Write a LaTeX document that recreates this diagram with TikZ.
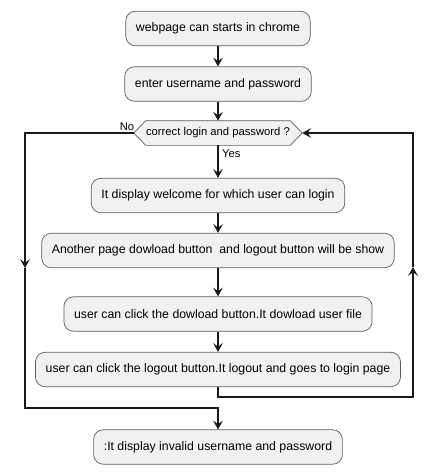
\documentclass[tikz,border=0pt]{standalone}
\usepackage{fontspec}
\setmainfont{Liberation Sans}
\usetikzlibrary{arrows.meta, backgrounds}
\definecolor{boxfill}{HTML}{F1F1F1}
\definecolor{boxline}{HTML}{181818}

\begin{document}
\begin{tikzpicture}[x=0.02cm, y=-0.02cm, font=\fontsize{7}{8.4}\selectfont,
   >={Stealth[length=5pt, width=5.5pt, inset=2pt]},
   act/.style={draw=boxline!70, fill=boxfill, rounded corners=5.5pt, minimum height=0.69cm, inner xsep=5.8pt, line width=0.4pt},
   dec/.style={minimum height=0.48cm, minimum width=2.86cm, inner sep=0pt, font=\fontsize{6.4}{7.7}\selectfont},
   hexa/.style={draw=boxline!70, fill=boxfill, line width=0.4pt},
   tag/.style={font=\fontsize{6.4}{7.7}\selectfont, inner sep=1pt},
   flow/.style={->, draw=boxline, line width=0.6pt}]
  \useasboundingbox (0,0) rectangle (437,474);
  % main column
  \node[act] (start) at (218,28.5) {webpage can starts in chrome};
  \node[act] (enter) at (218,84) {enter username and password};
  \node[dec] (check) at (218,133) {correct login and password ?};
  \node[act] (welcome) at (218,195.5) {It display welcome for which user can login};
  \node[act] (menu) at (218,250.5) {Another page dowload button\ \ and logout button will be show};
  \node[act] (download) at (218,314) {user can click the dowload button.It dowload user file};
  \node[act] (logout) at (218,369.5) {user can click the logout button.It logout and goes to login page};
  \node[act] (invalid) at (218,447) {:It display invalid username and password};
  \node[tag] (nolabel) at (127,127) {No};
  % hexagon round the check
  \coordinate (checkleft) at ([xshift=-0.24cm]check.west);
  \coordinate (checkright) at ([xshift=0.24cm]check.east);
  \begin{scope}[on background layer]
    \draw[hexa] (check.north west) -- (check.north east) -- (checkright) -- (check.south east)
      -- (check.south west) -- (checkleft) -- cycle;
  \end{scope}
  % bends
  \coordinate (nobend) at (25,133); \coordinate (noarrow) at (25,268);
  \coordinate (nodown) at (25,408); \coordinate (nojoin) at (218,408);
  \coordinate (loopdown) at (218,397); \coordinate (loopright) at (413,397);
  \coordinate (looparrow) at (413,267); \coordinate (loopup) at (413,133);
  \draw[flow] (start) -- (enter);
  \draw[flow] (enter) -- (check);
  \draw[flow] (check) -- node[tag, right, pos=0.25, xshift=1pt] (yeslabel) {Yes} (welcome);
  \draw[flow] (welcome) -- (menu);
  \draw[flow] (menu) -- (download);
  \draw[flow] (download) -- (logout);
  % no branch
  \draw[flow] (checkleft) -- (nobend) -- (noarrow);
  \draw[flow] (noarrow) -- (nodown) -- (nojoin) -- (invalid);
  % back to the check
  \draw[flow] (logout) -- (loopdown) -- (loopright) -- (looparrow);
  \draw[flow] (looparrow) -- (loopup) -- (checkright);
\end{tikzpicture}
\end{document}
